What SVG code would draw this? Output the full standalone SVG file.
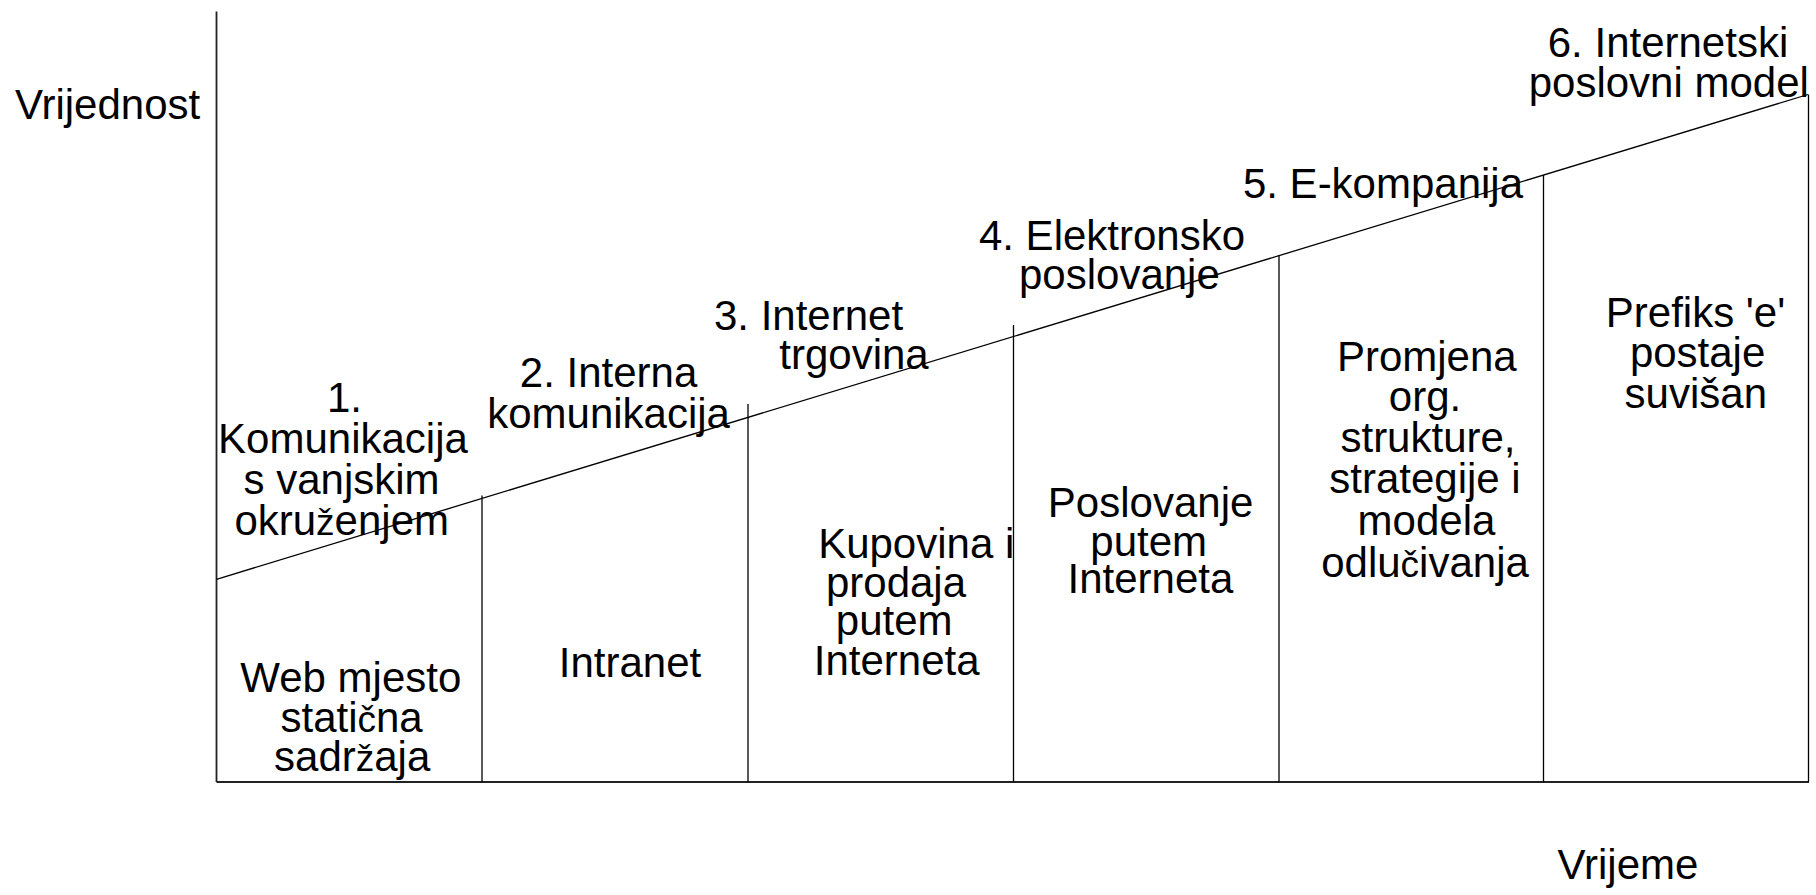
<svg xmlns="http://www.w3.org/2000/svg" width="1816" height="895" viewBox="0 0 1816 895">
<style>
text{font-family:"Liberation Sans",Arial,sans-serif;font-size:42px;fill:#000;text-anchor:middle}
.l{text-anchor:start}
.s{font-size:37px}
.ln{stroke:#000;stroke-width:1.3;fill:none}
.ax{stroke:#222;stroke-width:1.8;fill:none}
</style>
<rect width="1816" height="895" fill="#fff"/>
<g id="connectors">
<line class="ax" x1="216.5" y1="11.5" x2="216.5" y2="782"/>
<line class="ax" x1="216.5" y1="782" x2="1809" y2="782"/>
<line class="ln" x1="216.5" y1="579.3" x2="1808" y2="94.5"/>
<line class="ln" x1="482" y1="495.5" x2="482" y2="782"/>
<line class="ln" x1="748" y1="404" x2="748" y2="782"/>
<line class="ln" x1="1013.5" y1="325" x2="1013.5" y2="782"/>
<line class="ln" x1="1279" y1="255" x2="1279" y2="782"/>
<line class="ln" x1="1543.5" y1="175" x2="1543.5" y2="782"/>
<line class="ln" x1="1808.5" y1="94.5" x2="1808.5" y2="782"/>
</g>
<g id="axis-y"><text class="l" x="15" y="118.5">Vrijednost</text></g>
<g id="axis-x"><text x="1628" y="878.5">Vrijeme</text></g>
<g id="stage1">
<text x="344.5" y="411.7">1.</text>
<text x="343" y="453.3">Komunikacija</text>
<text x="341.6" y="493.5">s vanjskim</text>
<text x="341.7" y="535">okru<tspan class="s">ž</tspan>enjem</text>
</g>
<g id="stage2">
<text x="608.6" y="386.7">2. Interna</text>
<text x="608.6" y="428.3">komunikacija</text>
</g>
<g id="stage3">
<text x="808.5" y="330">3. Internet</text>
<text x="854" y="368.5">trgovina</text>
</g>
<g id="stage4">
<text x="1112" y="250">4. Elektronsko</text>
<text x="1119.4" y="289">poslovanje</text>
</g>
<g id="stage5">
<text x="1383" y="198.3">5. E-kompanija</text>
</g>
<g id="stage6">
<text x="1668" y="56.7">6. Internetski</text>
<text x="1668.8" y="96.7">poslovni model</text>
</g>
<g id="col1">
<text x="350.8" y="691.7">Web mjesto</text>
<text x="351.6" y="731.7">stati<tspan class="s">č</tspan>na</text>
<text x="352.2" y="770.7">sadr<tspan class="s">ž</tspan>aja</text>
</g>
<g id="col2">
<text x="630" y="676.7">Intranet</text>
</g>
<g id="col3">
<text x="916.2" y="558.3">Kupovina i</text>
<text x="896" y="596.7">prodaja</text>
<text x="894.2" y="635">putem</text>
<text x="896.7" y="675">Interneta</text>
</g>
<g id="col4">
<text x="1150.6" y="516.7">Poslovanje</text>
<text x="1148.7" y="556">putem</text>
<text x="1150.4" y="593.3">Interneta</text>
</g>
<g id="col5">
<text x="1426.8" y="370.7">Promjena</text>
<text x="1425" y="411">org.</text>
<text x="1428" y="452">strukture,</text>
<text x="1425" y="493.3">strategije i</text>
<text x="1426.5" y="535">modela</text>
<text x="1425" y="576.7">odlu<tspan class="s">č</tspan>ivanja</text>
</g>
<g id="col6">
<text x="1695.5" y="326.7">Prefiks 'e'</text>
<text x="1697.6" y="366.7">postaje</text>
<text x="1695.8" y="408.3">suvišan</text>
</g>
</svg>
